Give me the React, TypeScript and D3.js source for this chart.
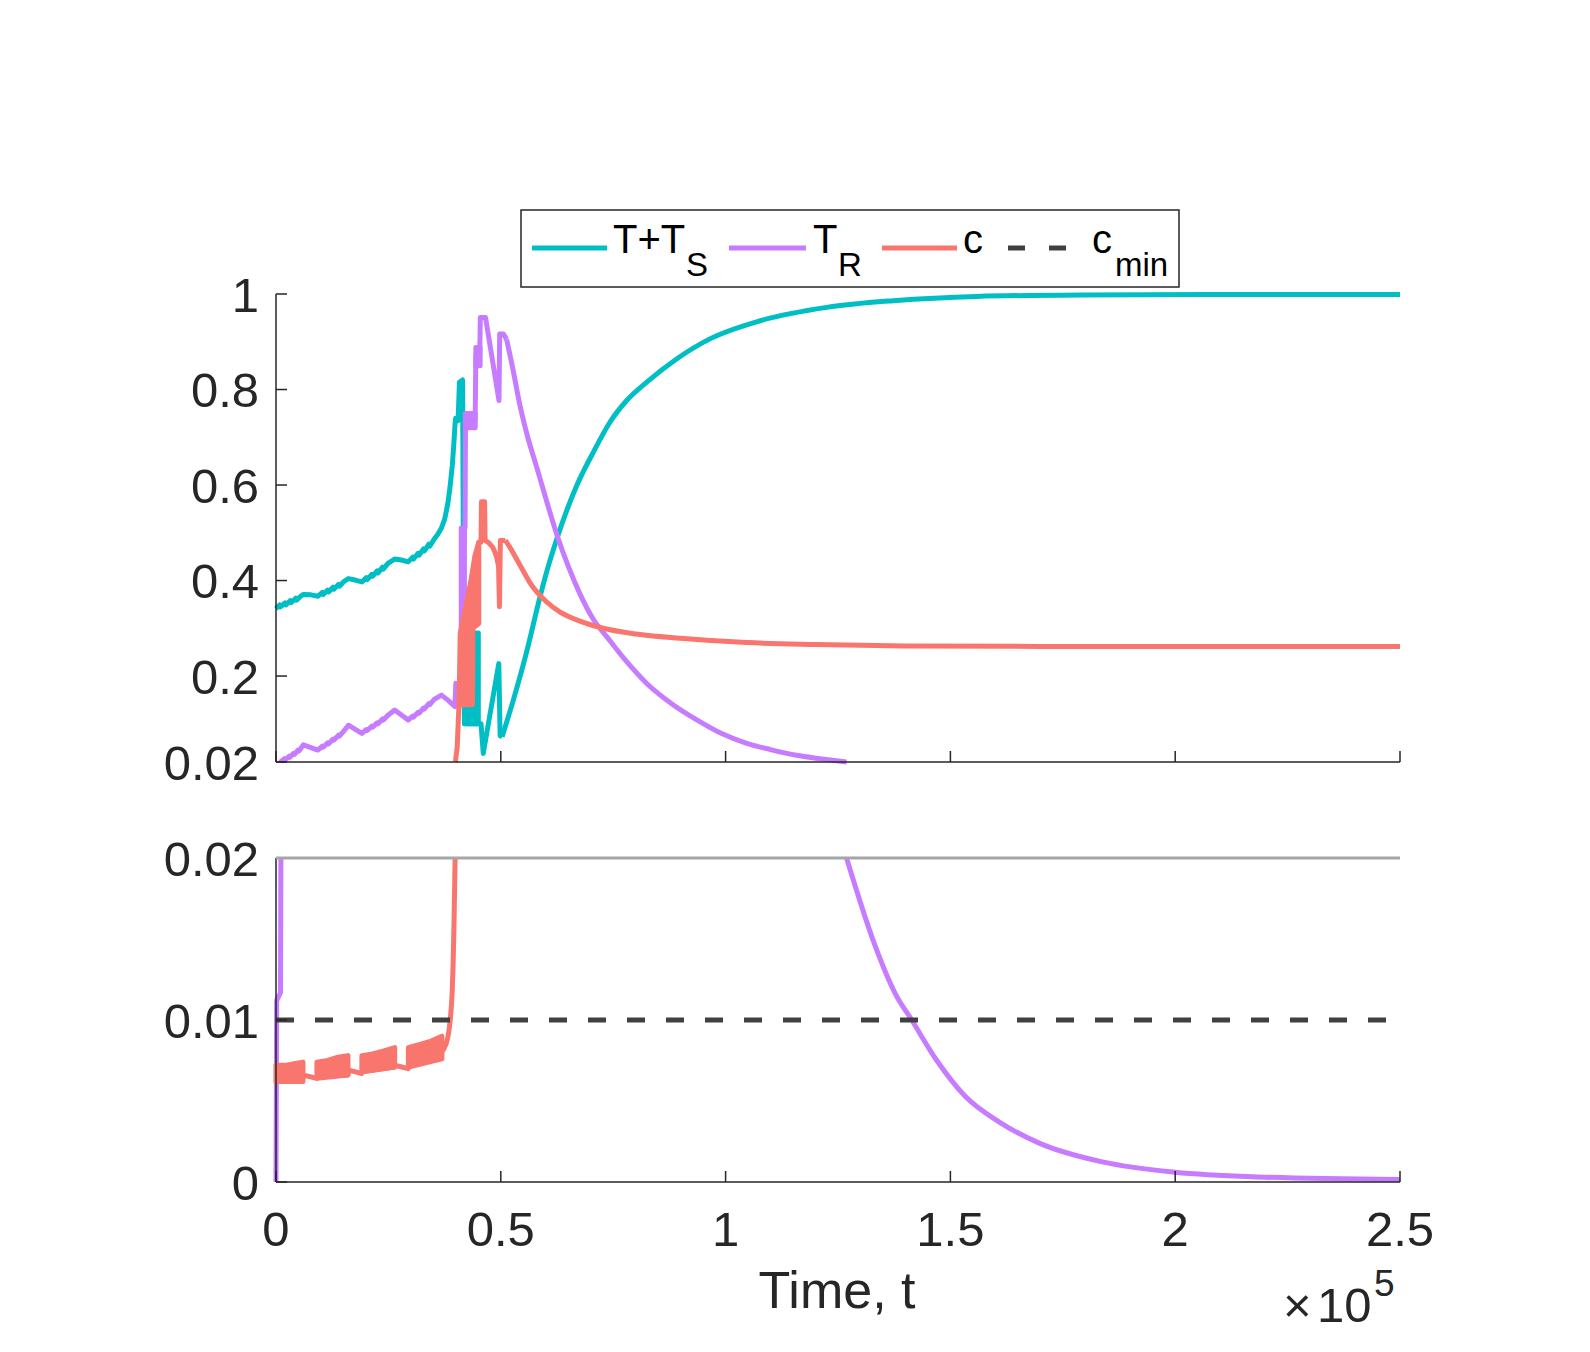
import * as d3 from "d3";

// time in raw units (axis shows x10^5)
const xTicks = [0, 50000, 100000, 150000, 200000, 250000];
const xTickLabels = ["0", "0.5", "1", "1.5", "2", "2.5"];
const topTicks = [0.02, 0.2, 0.4, 0.6, 0.8, 1];
const topTickLabels = ["0.02", "0.2", "0.4", "0.6", "0.8", "1"];
const bottomTicks = [0, 0.01, 0.02];
const bottomTickLabels = ["0", "0.01", "0.02"];

const C_MIN = 0.01;

type Pt = [number, number];
type Band = { upper: Pt[]; lower: Pt[] };

// T + T_S
const tTotal: Pt[] = [
  [0, 0.341], [800, 0.349], [1000, 0.345], [2000, 0.353], [2200, 0.349], [3200, 0.358], [3400, 0.354],
  [4400, 0.363], [4600, 0.359], [5600, 0.368], [6100, 0.371], [7800, 0.370], [9300, 0.367],
  [10300, 0.375], [10500, 0.371], [11500, 0.380], [11700, 0.376], [12700, 0.386], [12900, 0.382],
  [13900, 0.392], [14100, 0.388], [15100, 0.398], [16100, 0.404], [17600, 0.401], [19100, 0.397],
  [20100, 0.406], [20300, 0.402], [21300, 0.413], [21500, 0.409], [22500, 0.420], [22700, 0.416],
  [23700, 0.428], [23900, 0.424], [24900, 0.436], [26400, 0.445], [27900, 0.443], [29400, 0.439],
  [30400, 0.449], [30600, 0.445], [31600, 0.457], [31800, 0.453], [32800, 0.466], [33000, 0.462],
  [34000, 0.476], [34200, 0.472], [35200, 0.487], [36000, 0.497], [36800, 0.510], [37500, 0.528],
  [38200, 0.56], [38700, 0.595], [39200, 0.64], [39550, 0.685], [39800, 0.725], [39950, 0.74],
  [40500, 0.735], [40800, 0.815], [41500, 0.82], [41650, 0.51], [41900, 0.29], [42200, 0.10],
  [45000, 0.10], [45600, 0.10], [46100, 0.038], [49550, 0.226], [49850, 0.075], [50300, 0.073],
  [52800, 0.15], [56000, 0.26], [58300, 0.35], [60200, 0.418], [62600, 0.491], [64800, 0.55],
  [66900, 0.599], [70600, 0.669], [74300, 0.732], [78000, 0.777], [82400, 0.815], [89100, 0.864],
  [96500, 0.906], [107700, 0.944], [122500, 0.972], [137300, 0.986], [155800, 0.995],
  [180000, 0.998], [210000, 0.999], [250000, 0.999],
];
const tTotalBands: Band[] = [
  { upper: [[41900, 0.29], [45000, 0.29]], lower: [[41900, 0.10], [45000, 0.10]] },
];

// T_R
const tResistant: Pt[] = [
  [0, 0], [150, 0.0112], [1000, 0.0117], [1100, 0.021], [1900, 0.027], [2100, 0.025], [2900, 0.032],
  [3100, 0.030], [3900, 0.038], [4100, 0.036], [4900, 0.045], [5100, 0.043], [6100, 0.056], [9300, 0.045],
  [10300, 0.053], [10500, 0.051], [11500, 0.060], [11700, 0.058], [12700, 0.068], [12900, 0.066],
  [13900, 0.076], [14100, 0.074], [15100, 0.085], [16100, 0.097], [19100, 0.080],
  [20100, 0.088], [20300, 0.086], [21300, 0.095], [21500, 0.093], [22500, 0.102], [22700, 0.100],
  [23700, 0.110], [23900, 0.108], [24900, 0.118], [26400, 0.129], [29400, 0.108],
  [30400, 0.116], [30600, 0.114], [31600, 0.124], [31800, 0.122], [32800, 0.133], [33000, 0.131],
  [34000, 0.142], [34200, 0.140], [35200, 0.151], [36800, 0.160], [38300, 0.149], [39800, 0.136],
  [40000, 0.185], [40200, 0.14], [41200, 0.14], [41900, 0.51], [42050, 0.51], [42150, 0.735],
  [44300, 0.735], [44450, 0.87], [45300, 0.87], [45450, 0.951], [46600, 0.951], [49600, 0.777],
  [49750, 0.916], [50600, 0.916], [51300, 0.905], [52500, 0.852], [54300, 0.765], [56000, 0.70],
  [58000, 0.637], [60200, 0.566], [62400, 0.498], [65000, 0.43], [67600, 0.372], [70500, 0.32],
  [73600, 0.282], [78000, 0.23], [82400, 0.185], [88000, 0.142], [93600, 0.108], [99000, 0.08],
  [104700, 0.059], [110000, 0.046], [115800, 0.034], [121000, 0.027], [126900, 0.020],
  [133100, 0.0147], [137700, 0.01165], [141400, 0.0100], [146900, 0.00753], [153400, 0.00526],
  [160800, 0.00371], [170000, 0.00237], [183800, 0.00124], [200000, 0.0006], [220000, 0.0003],
  [250000, 0.00015],
];
const tResistantBands: Band[] = [
  { upper: [[41200, 0.51], [41900, 0.51]], lower: [[41200, 0.14], [41900, 0.14]] },
  { upper: [[42100, 0.75], [44300, 0.75]], lower: [[42100, 0.72], [44300, 0.72]] },
  { upper: [[44450, 0.888], [45400, 0.888]], lower: [[44450, 0.85], [45400, 0.85]] },
];

// c
const conc: Pt[] = [
  [0, 0.0063], [6000, 0.0064], [6100, 0.0066], [7600, 0.0065], [9050, 0.0064], [9150, 0.0065],
  [16000, 0.0066], [16200, 0.0069], [17700, 0.0068], [19050, 0.0067], [19150, 0.0068],
  [26400, 0.0071], [26550, 0.0072], [28000, 0.0071], [29400, 0.0070], [29500, 0.0071],
  [36800, 0.0080], [37300, 0.0082], [37800, 0.0085], [38200, 0.0089], [38500, 0.0094],
  [38750, 0.0100], [39000, 0.0108], [39200, 0.0118], [39400, 0.0135], [39600, 0.0160],
  [39750, 0.0185], [39900, 0.021], [40300, 0.05], [40700, 0.14], [41000, 0.29],
  [45100, 0.48], [45600, 0.48], [45700, 0.565], [46400, 0.565], [46500, 0.484], [47200, 0.48],
  [48200, 0.47], [49000, 0.452], [49500, 0.43], [49700, 0.345], [49900, 0.484], [51000, 0.484],
  [52000, 0.47], [53500, 0.445], [55000, 0.42], [56500, 0.395], [60200, 0.355], [63200, 0.334],
  [67600, 0.315], [72800, 0.300], [80000, 0.288], [89900, 0.279], [104700, 0.270], [120000, 0.266],
  [140000, 0.263], [170000, 0.262], [250000, 0.262],
];
const concBands: Band[] = [
  { upper: [[0, 0.0072], [2000, 0.0072], [4000, 0.0073], [6000, 0.0074]], lower: [[0, 0.0062], [6000, 0.0062]] },
  { upper: [[9100, 0.0074], [11500, 0.0075], [13800, 0.0077], [16000, 0.0078]], lower: [[9100, 0.0064], [16000, 0.0066]] },
  { upper: [[19100, 0.0078], [21500, 0.0079], [24000, 0.0081], [26400, 0.0083]], lower: [[19100, 0.0068], [26400, 0.0071]] },
  { upper: [[29450, 0.0083], [32000, 0.0085], [34500, 0.0087], [36900, 0.0090]], lower: [[29450, 0.0071], [36900, 0.0076]] },
  {
    upper: [[41000, 0.29], [41800, 0.31], [42600, 0.34], [43400, 0.40], [44200, 0.45], [45100, 0.48]],
    lower: [[41000, 0.14], [43700, 0.14], [43800, 0.30], [45100, 0.31]],
  },
];

// where the curves stop being jagged and turn into smooth relaxations
const series = [
  { name: "tTotal", data: tTotal, bands: tTotalBands, color: "#00BFC4", smoothFrom: 50300 },
  { name: "tResistant", data: tResistant, bands: tResistantBands, color: "#C77CFF", smoothFrom: 51300 },
  { name: "conc", data: conc, bands: concBands, color: "#F8766D", smoothFrom: 51000 },
];

const W = 1590;
const H = 1352;
const FONT = "'Liberation Sans', Arial, Helvetica, sans-serif";
const INK = "#262626";

const X0 = 276, X1 = 1400;
const TOP_Y1 = 294, TOP_Y0 = 762;
const BOT_Y1 = 858, BOT_Y0 = 1182;

// cut a polyline to the value range [lo, hi], like the axes clipping does
function clipRuns(pts: Pt[], lo: number, hi: number): Pt[][] {
  const runs: Pt[][] = [];
  let cur: Pt[] = [];
  const inside = (p: Pt) => p[1] >= lo && p[1] <= hi;
  const cross = (p: Pt, q: Pt, v: number): Pt => [p[0] + (v - p[1]) / (q[1] - p[1]) * (q[0] - p[0]), v];
  pts.forEach((p, i) => {
    if (i > 0) {
      const q = pts[i - 1];
      const qi = inside(q), pi = inside(p);
      if (qi && !pi) {
        cur.push(cross(q, p, p[1] > hi ? hi : lo));
        runs.push(cur);
        cur = [];
      } else if (!qi && pi) {
        cur = [cross(q, p, q[1] > hi ? hi : lo)];
      } else if (!qi && !pi && (q[1] - lo) * (p[1] - lo) < 0 && (q[1] - hi) * (p[1] - hi) < 0) {
        const a = cross(q, p, q[1] > hi ? hi : lo);
        const b = cross(q, p, p[1] > hi ? hi : lo);
        runs.push([a, b]);
      }
    }
    if (inside(p)) cur.push(p);
  });
  if (cur.length > 1) runs.push(cur);
  return runs.filter(r => r.length > 1);
}

export default function App() {
  const x = d3.scaleLinear().domain([0, 250000]).range([X0, X1]);
  const yTop = d3.scaleLinear().domain([0.02, 1]).range([TOP_Y0, TOP_Y1]);
  const yBot = d3.scaleLinear().domain([0, 0.02]).range([BOT_Y0, BOT_Y1]);

  const poly = (y: d3.ScaleLinear<number, number>) => (b: Band) =>
    (d3.line<Pt>().x(d => x(d[0])).y(d => y(d[1]))([...b.upper, ...b.lower.slice().reverse()]) ?? "") + "Z";

  const panels = [
    { id: "clipTop", y: yTop, lo: 0.02, hi: 1, clip: { x: X0 - 4, y: TOP_Y1 - 4, w: X1 - X0 + 8, h: TOP_Y0 - TOP_Y1 + 4 } },
    { id: "clipBot", y: yBot, lo: 0, hi: 0.02, clip: { x: X0 - 4, y: BOT_Y1, w: X1 - X0 + 8, h: BOT_Y0 - BOT_Y1 + 4 } },
  ];

  const seriesPaths = (p: typeof panels[number], s: typeof series[number]) => {
    const jagged = s.data.filter(d => d[0] <= s.smoothFrom);
    const smooth = s.data.filter(d => d[0] >= s.smoothFrom);
    const lin = d3.line<Pt>().x(d => x(d[0])).y(d => p.y(d[1]));
    const mono = d3.line<Pt>().x(d => x(d[0])).y(d => p.y(d[1])).curve(d3.curveMonotoneX);
    return [
      ...clipRuns(jagged, p.lo, p.hi).map(r => lin(r) ?? ""),
      ...clipRuns(smooth, p.lo, p.hi).map(r => mono(r) ?? ""),
    ];
  };

  return (
    <svg width={W} height={H} style={{ position: "absolute", left: 0, top: 0, background: "#fff" }}
      fontFamily={FONT}>
      <defs>
        {panels.map(p => (
          <clipPath key={p.id} id={p.id}>
            <rect x={p.clip.x} y={p.clip.y} width={p.clip.w} height={p.clip.h} />
          </clipPath>
        ))}
      </defs>

      {panels.map(p => (
        <g key={p.id} fill="none" strokeWidth={5} strokeLinejoin="round">
          {series.map(s => (
            <g key={s.name} stroke={s.color}>
              {seriesPaths(p, s).map((d, i) => (
                <path key={i} d={d} />
              ))}
              <g clipPath={`url(#${p.id})`}>
                {s.bands.map((b, i) => (
                  <path key={i} d={poly(p.y)(b)} fill={s.color} />
                ))}
              </g>
            </g>
          ))}
          {p.id === "clipBot" && (
            <line x1={X0} x2={X1} y1={yBot(C_MIN)} y2={yBot(C_MIN)} stroke="#404040" strokeDasharray="18 21" />
          )}
        </g>
      ))}

      {/* top panel axes */}
      <g stroke={INK} strokeWidth={1.5} fill="none">
        <line x1={X0} x2={X0} y1={TOP_Y1} y2={TOP_Y0} />
        <line x1={X0} x2={X1} y1={TOP_Y0} y2={TOP_Y0} />
        {topTicks.map(v => (
          <line key={v} x1={X0} x2={X0 + 11} y1={yTop(v)} y2={yTop(v)} />
        ))}
        {xTicks.map(v => (
          <line key={v} x1={x(v)} x2={x(v)} y1={TOP_Y0} y2={TOP_Y0 - 11} />
        ))}
      </g>
      {topTicks.map((v, i) => (
        <text key={v} x={259} y={yTop(v)} dy="0.36em" textAnchor="end" fontSize={49} fill={INK}>
          {topTickLabels[i]}
        </text>
      ))}

      {/* bottom panel axes */}
      <g stroke={INK} strokeWidth={1.5} fill="none">
        <line x1={X0} x2={X0} y1={BOT_Y1} y2={BOT_Y0} />
        <line x1={X0} x2={X1} y1={BOT_Y0} y2={BOT_Y0} />
        {bottomTicks.map(v => (
          <line key={v} x1={X0} x2={X0 + 11} y1={yBot(v)} y2={yBot(v)} />
        ))}
        {xTicks.map(v => (
          <line key={v} x1={x(v)} x2={x(v)} y1={BOT_Y0} y2={BOT_Y0 - 11} />
        ))}
      </g>
      <line x1={X0} x2={X1} y1={BOT_Y1} y2={BOT_Y1} stroke="#a6a6a6" strokeWidth={3} />
      {bottomTicks.map((v, i) => (
        <text key={v} x={259} y={yBot(v)} dy="0.36em" textAnchor="end" fontSize={49} fill={INK}>
          {bottomTickLabels[i]}
        </text>
      ))}

      {/* x axis labels */}
      {xTicks.map((v, i) => (
        <text key={v} x={x(v)} y={1246} textAnchor="middle" fontSize={49} fill={INK}>
          {xTickLabels[i]}
        </text>
      ))}
      <text x={837} y={1308} textAnchor="middle" fontSize={52} fill={INK}>Time, t</text>
      <text x={1283} y={1322} fontSize={49} fill={INK}>×</text>
      <text x={1317} y={1322} fontSize={49} fill={INK}>10</text>
      <text x={1374} y={1296} fontSize={37} fill={INK}>5</text>

      {/* legend */}
      <rect x={521} y={210} width={658} height={77} fill="#fff" stroke={INK} strokeWidth={1.5} />
      <g strokeWidth={5}>
        <line x1={532} x2={607} y1={248} y2={248} stroke="#00BFC4" />
        <line x1={729} x2={806} y1={248} y2={248} stroke="#C77CFF" />
        <line x1={882} x2={957} y1={248} y2={248} stroke="#F8766D" />
        <line x1={1008} x2={1066} y1={248} y2={248} stroke="#404040" strokeDasharray="17 24" />
      </g>
      <g fill="#000" fontSize={40}>
        <text x={613} y={253}>T+T</text>
        <text x={686} y={276} fontSize={33}>S</text>
        <text x={813} y={253}>T</text>
        <text x={838} y={276} fontSize={33}>R</text>
        <text x={963} y={253}>c</text>
        <text x={1092} y={253}>c</text>
        <text x={1115} y={276} fontSize={33}>min</text>
      </g>
    </svg>
  );
}
